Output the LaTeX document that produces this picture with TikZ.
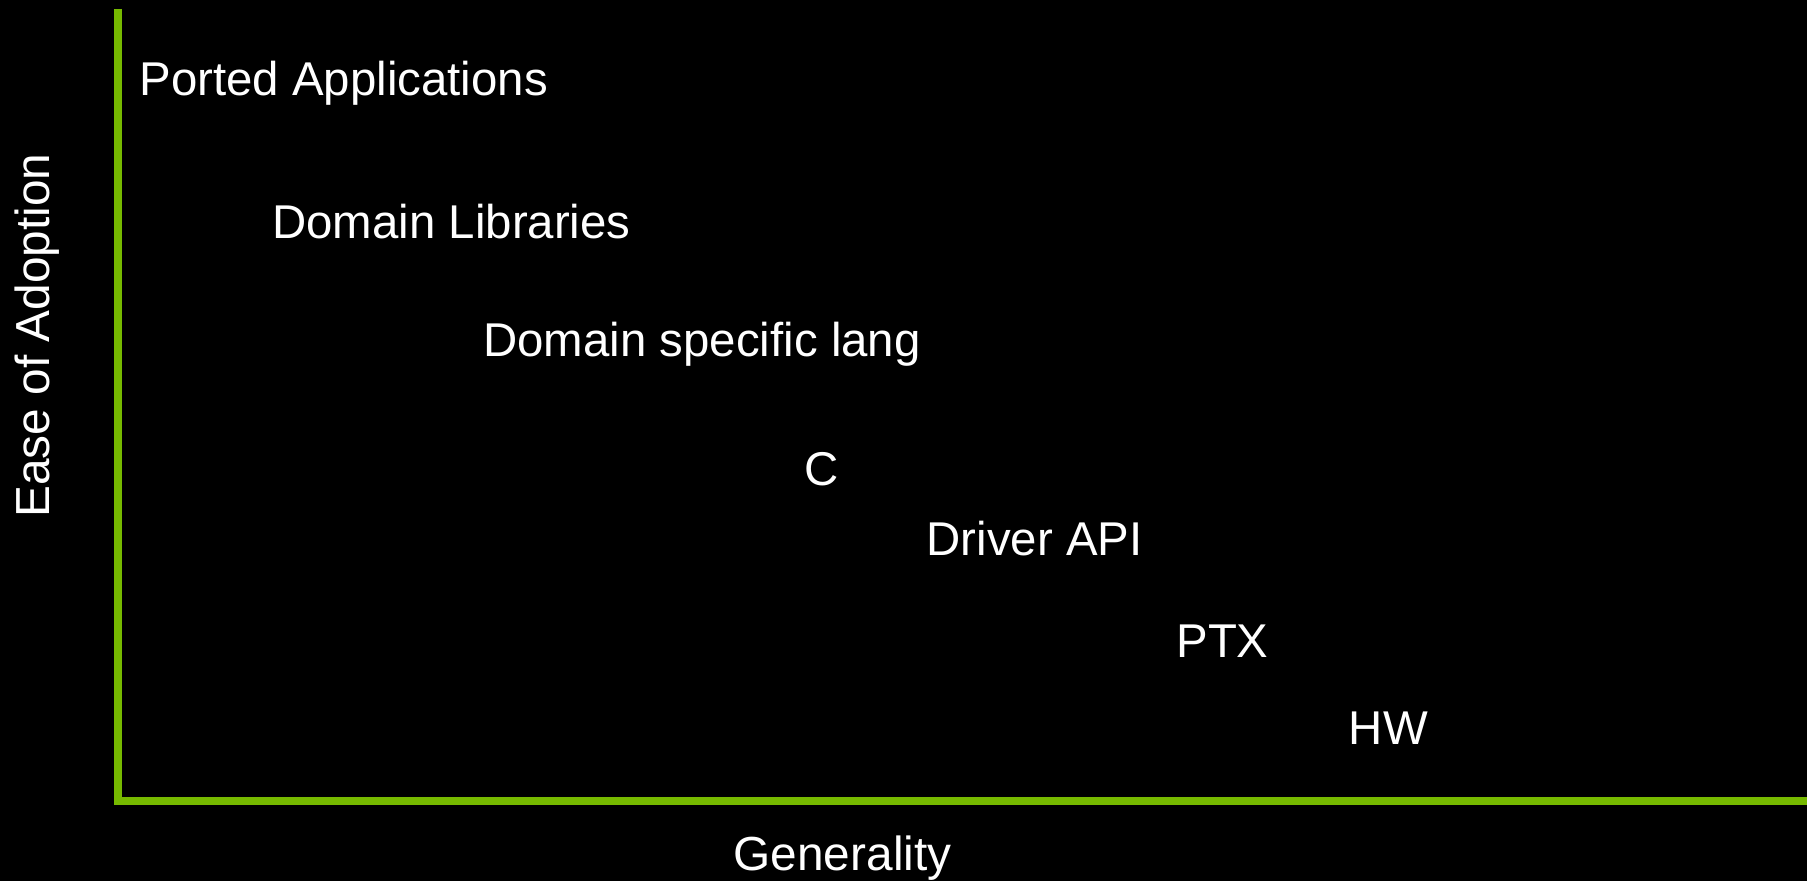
\documentclass[tikz,border=0pt]{standalone}
\usepackage{fontspec}
\setmainfont{Liberation Sans}
\definecolor{axisgreen}{RGB}{118,185,0}
\begin{document}
\begin{tikzpicture}[x=0.5pt,y=-0.5pt,
  axis/.style={draw=axisgreen,line width=3.75pt},
  level/.style={text=white,inner sep=0pt,anchor=base west,font=\fontsize{23.7}{28}\selectfont},
  axlabel/.style={text=white,inner sep=0pt,font=\fontsize{23.9}{28}\selectfont}]
  % black canvas fixing the page size
  \fill[black] (0,0) rectangle (1807,881);
  \useasboundingbox (0,0) rectangle (1807,881);

  % axes
  \coordinate (ytop) at (118,9);
  \coordinate (origin) at (118,801);
  \coordinate (xend) at (1807,801);
  \draw[axis] (ytop) -- (origin) -- (xend);

  % axis titles
  \node[axlabel,anchor=base west,rotate=90] (ylab) at (49.5,518) {Ease of Adoption};
  \node[axlabel,anchor=base] (xlab) at (842.5,870) {Generality};

  % programming levels, from easiest to most general
  \node[level] (ported) at (139,96) {Ported Applications};
  \node[level] (libs) at (272,238.5) {Domain Libraries};
  \node[level] (dsl) at (483,357) {Domain specific lang};
  \node[level] (c) at (804,485) {C};
  \node[level] (driver) at (926.3,555.5) {Driver API};
  \node[level] (ptx) at (1176,657) {PTX};
  \node[level] (hw) at (1348.5,744) {HW};
\end{tikzpicture}
\end{document}
